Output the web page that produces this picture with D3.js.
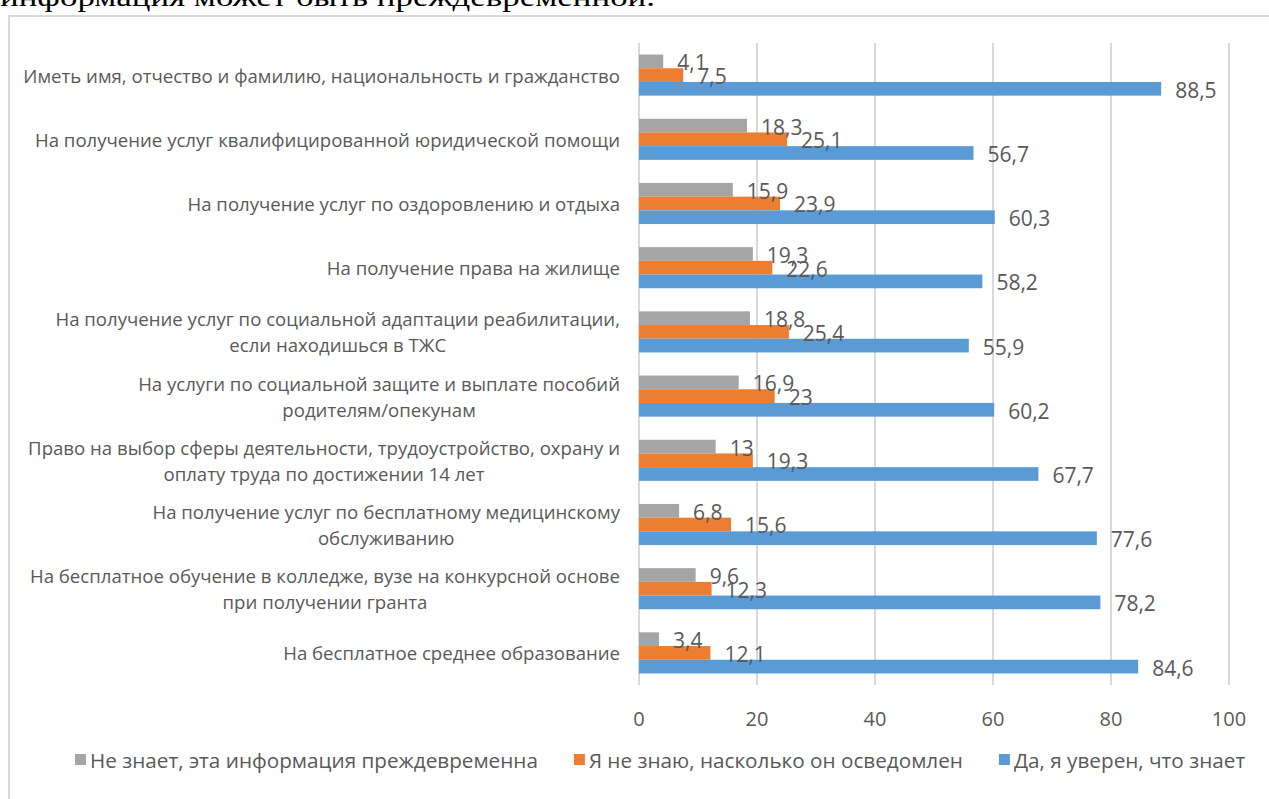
<!DOCTYPE html>
<meta charset="utf-8">
<style>
body { margin: 0; background: #fff; }
svg text { font-family: "Open Sans", "Noto Sans", sans-serif; fill: #595959; }
.grid line { stroke: #d9d9d9; stroke-width: 2px; }
</style>
<svg width="1269" height="799" id="chart"></svg>
<script src="https://d3js.org/d3.v7.min.js"></script>
<script>

// categories, top to bottom (lines split with "|")
var categories = [
  "Иметь имя, отчество и фамилию, национальность и гражданство",
  "На получение услуг квалифицированной юридической помощи",
  "На получение услуг по оздоровлению и отдыха",
  "На получение права на жилище",
  "На получение услуг по социальной адаптации реабилитации,|если находишься в ТЖС",
  "На услуги по социальной защите и  выплате пособий|родителям/опекунам",
  "Право на выбор сферы деятельности, трудоустройство, охрану и|оплату труда по достижении 14 лет",
  "На получение услуг по бесплатному медицинскому|обслуживанию",
  "На бесплатное обучение в колледже, вузе на конкурсной основе|при получении гранта",
  "На бесплатное среднее образование"
];

var seriesNames = [
  "Не знает, эта информация преждевременна",
  "Я не знаю, насколько он осведомлен",
  "Да, я уверен, что знает"
];
var seriesColors = ["#a5a5a5", "#ed7d31", "#5b9bd5"];

var notKnow = [4.1, 18.3, 15.9, 19.3, 18.8, 16.9, 13, 6.8, 9.6, 3.4];
var unsure  = [7.5, 25.1, 23.9, 22.6, 25.4, 23, 19.3, 15.6, 12.3, 12.1];
var sure    = [88.5, 56.7, 60.3, 58.2, 55.9, 60.2, 67.7, 77.6, 78.2, 84.6];
var seriesValues = [notKnow, unsure, sure];

var xTicks = [0, 20, 40, 60, 80, 100];

var svg = d3.select("#chart");

// text of the page above the chart (cut off)
svg.append("text")
    .attr("x", 0).attr("y", 6)
    .attr("textLength", 655)
    .attr("lengthAdjust", "spacingAndGlyphs")
    .style("font-family", "'Liberation Serif', 'Times New Roman', serif")
    .style("font-size", "27px")
    .style("fill", "#000")
    .text("информация может быть преждевременной.");

// chart frame
svg.append("rect")
    .attr("x", 9).attr("y", 16)
    .attr("width", 1300).attr("height", 820)
    .attr("fill", "#fff")
    .attr("stroke", "#d9d9d9")
    .attr("stroke-width", 2);

var x = d3.scaleLinear().domain([0, 100]).range([639, 1229]);

var y = d3.scaleBand()
    .domain(d3.range(categories.length))
    .range([43, 685])
    .paddingInner(0.36)
    .paddingOuter(0.18);

var ySub = d3.scaleBand()
    .domain(d3.range(seriesNames.length))
    .range([0, y.bandwidth()]);

// gridlines
svg.append("g")
    .attr("class", "grid")
  .selectAll("line")
  .data(xTicks)
  .enter().append("line")
    .attr("x1", function(d) { return x(d); })
    .attr("x2", function(d) { return x(d); })
    .attr("y1", 43)
    .attr("y2", 685);

// x tick labels
svg.append("g")
  .selectAll("text")
  .data(xTicks)
  .enter().append("text")
    .attr("x", function(d) { return x(d); })
    .attr("y", 718)
    .attr("text-anchor", "middle")
    .attr("dominant-baseline", "central")
    .style("font-size", "20px")
    .text(function(d) { return d; });

// bars
var groups = svg.append("g")
  .selectAll("g")
  .data(categories)
  .enter().append("g")
    .attr("transform", function(d, i) { return "translate(0," + y(i) + ")"; });

groups.each(function(cat, i) {
  var g = d3.select(this);
  var rows = seriesValues.map(function(vals, s) { return { s: s, v: vals[i] }; });

  g.selectAll("rect")
    .data(rows)
    .enter().append("rect")
      .attr("x", x(0))
      .attr("y", function(d) { return ySub(d.s); })
      .attr("width", function(d) { return x(d.v) - x(0); })
      .attr("height", ySub.bandwidth())
      .attr("fill", function(d) { return seriesColors[d.s]; });

  g.selectAll("text.val")
    .data(rows)
    .enter().append("text")
      .attr("class", "val")
      .attr("x", function(d) { return x(d.v) + 14; })
      .attr("y", function(d) { return ySub(d.s) + ySub.bandwidth() / 2 + 1; })
      .attr("dominant-baseline", "central")
      .style("font-size", "21px")
      .text(function(d) { return String(d.v).replace(".", ","); });
});

// category labels, lines centred on each other, right edge at 620
var labels = svg.append("g")
  .selectAll("text")
  .data(categories)
  .enter().append("text")
    .style("font-size", "18.6px")
    .attr("text-anchor", "middle");

labels.each(function(cat, i) {
  var t = d3.select(this);
  var lines = cat.split("|");
  var cy = y(i) + y.bandwidth() / 2;
  var lh = 26;
  var spans = lines.map(function(line, k) {
    return t.append("tspan")
      .attr("y", cy + (k - (lines.length - 1) / 2) * lh)
      .attr("dominant-baseline", "central")
      .text(line);
  });
  var maxW = d3.max(spans, function(s) { return s.node().getComputedTextLength(); });
  spans.forEach(function(s) { s.attr("x", 620 - maxW / 2); });
});

// legend
var legend = svg.append("g");
var lx = 75;
seriesNames.forEach(function(name, s) {
  legend.append("rect")
    .attr("x", lx).attr("y", 754)
    .attr("width", 11).attr("height", 11)
    .attr("fill", seriesColors[s]);
  var t = legend.append("text")
    .attr("x", lx + 15)
    .attr("y", 760)
    .attr("dominant-baseline", "central")
    .style("font-size", "20.7px")
    .text(name);
  lx += 15 + t.node().getComputedTextLength() + 36;
});

</script>
